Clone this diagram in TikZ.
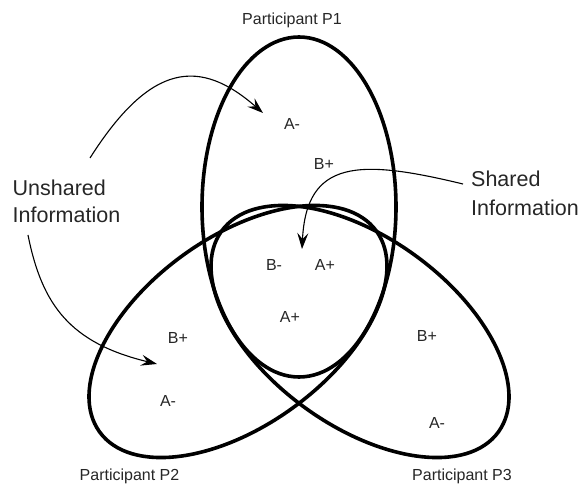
\documentclass[tikz,border=0pt]{standalone}
\usepackage{fontspec}
\setmainfont{Liberation Sans}
\usetikzlibrary{arrows.meta}
\begin{document}
\begin{tikzpicture}[x=1pt,y=-1pt,
  ring/.style={line width=3.6pt, draw=black},
  pointer/.style={line width=1.1pt, draw=black,
    -{Stealth[length=16pt,width=11pt,inset=6pt]}},
  small/.style={font=\fontsize{16}{19}\selectfont, text=black!85,
    inner sep=0pt, anchor=base},
  big/.style={font=\fontsize{21.5}{27}\selectfont, text=black!85,
    inner sep=0pt, anchor=base west},
]
\path[use as bounding box] (0,0) rectangle (579,484);

% the three participants
\draw[ring] (299,207) ellipse [x radius=97, y radius=170];
\draw[ring, rotate around={36:(238,331.5)}] (238,331.5) ellipse [x radius=171, y radius=94];
\draw[ring, rotate around={-36:(360,331.5)}] (360,331.5) ellipse [x radius=171, y radius=94];

% participant names
\node[small] (p1) at (292,25) {Participant P1};
\node[small] (p2) at (129.5,480) {Participant P2};
\node[small] (p3) at (462,480) {Participant P3};

% information items
\node[small] (p1a) at (292,130) {A-};
\node[small] (p1b) at (324,170) {B+};
\node[small] (cb) at (274,270) {B-};
\node[small] (ca) at (325,270) {A+};
\node[small] (cc) at (290,323) {A+};
\node[small] (p2b) at (178,343) {B+};
\node[small] (p2a) at (168,406) {A-};
\node[small] (p3b) at (427,341) {B+};
\node[small] (p3a) at (437,428) {A-};

% callouts
\node[big] (un1) at (12.5,196) {Unshared};
\node[big] (un2) at (12.5,223) {Information};
\node[big] (sh1) at (471,187) {Shared};
\node[big] (sh2) at (471,215) {Information};

\coordinate (uA) at (90,158);
\coordinate (uAt) at (263,113);
\coordinate (uB) at (28,235);
\coordinate (uBt) at (157,364);
\coordinate (sA) at (463,184);
\coordinate (sAt) at (302,249);

\draw[pointer] (uA) .. controls (151,62) and (200,58) .. (uAt);
\draw[pointer] (uB) .. controls (42,305) and (70,343) .. (uBt);
\draw[pointer] (sA) .. controls (358.5,158.7) and (306.5,159.6) .. (sAt);
\end{tikzpicture}
\end{document}
